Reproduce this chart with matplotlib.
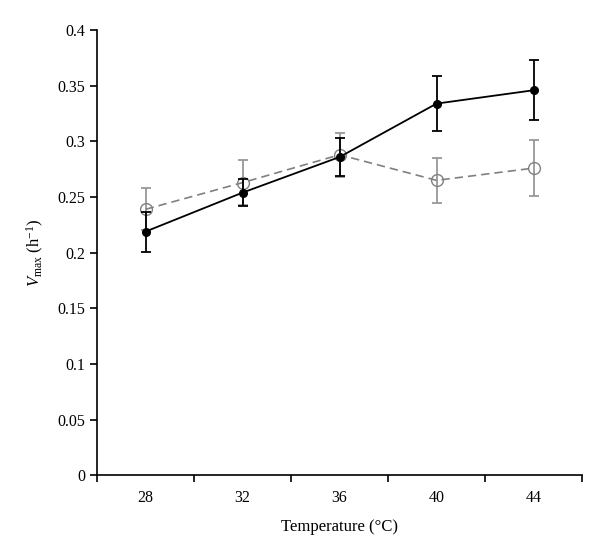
import numpy as np
import matplotlib
matplotlib.use("Agg")
import matplotlib.pyplot as plt

plt.rcParams["font.family"] = ["Liberation Serif", "DejaVu Serif"]
plt.rcParams["mathtext.fontset"] = "custom"
plt.rcParams["mathtext.rm"] = "Liberation Serif"
plt.rcParams["mathtext.it"] = "Liberation Serif:italic"

temps = ["28", "32", "36", "40", "44"]
black_vals = [0.219, 0.254, 0.286, 0.334, 0.346]
black_err = [0.018, 0.012, 0.017, 0.025, 0.027]
gray_vals = [0.239, 0.263, 0.288, 0.265, 0.276]
gray_err = [0.019, 0.020, 0.020, 0.020, 0.025]

x = np.arange(len(temps))

fig = plt.figure(figsize=(6, 5.59), dpi=100)
ax = fig.add_axes([0.162, 0.150, 0.808, 0.796])

ax.errorbar(x, gray_vals, yerr=gray_err, color="#808080", linestyle="--",
            dashes=(5, 3), linewidth=1.2, marker="o", markersize=8.5,
            markerfacecolor="none", markeredgecolor="#808080",
            ecolor="#999999", elinewidth=1.3, capsize=3.5, capthick=1.3, zorder=2)
ax.errorbar(x, black_vals, yerr=black_err, color="black", linestyle="-",
            linewidth=1.3, marker="o", markersize=5.5,
            markerfacecolor="black", markeredgecolor="black",
            ecolor="black", elinewidth=1.3, capsize=3.5, capthick=1.3, zorder=3)

ax.set_xlim(-0.5, len(temps) - 0.5)
ax.set_ylim(0, 0.4)
ax.set_yticks(np.arange(0, 0.401, 0.05))
ax.set_yticklabels(["0", "0.05", "0.1", "0.15", "0.2", "0.25", "0.3", "0.35", "0.4"])

# category axis: ticks between categories, labels at centres
ax.set_xticks(np.arange(-0.5, len(temps), 1.0))
ax.set_xticklabels([])
ax.set_xticks(x, minor=True)
ax.set_xticklabels(temps, minor=True)
ax.tick_params(axis="x", which="minor", length=0, pad=11)
ax.tick_params(axis="x", which="major", direction="out", length=5, width=1.2)
ax.tick_params(axis="y", direction="out", length=5, width=1.2)
ax.tick_params(which="both", labelsize=11.5)

ax.spines["top"].set_visible(False)
ax.spines["right"].set_visible(False)
ax.spines["left"].set_linewidth(1.2)
ax.spines["bottom"].set_linewidth(1.2)

ax.set_xlabel("Temperature (°C)", fontsize=12, labelpad=9)
ax.set_ylabel(r"$V_{\mathrm{max}}$ (h$^{-1}$)", fontsize=12, labelpad=8)

fig.savefig("out.png", dpi=100, facecolor="white")
